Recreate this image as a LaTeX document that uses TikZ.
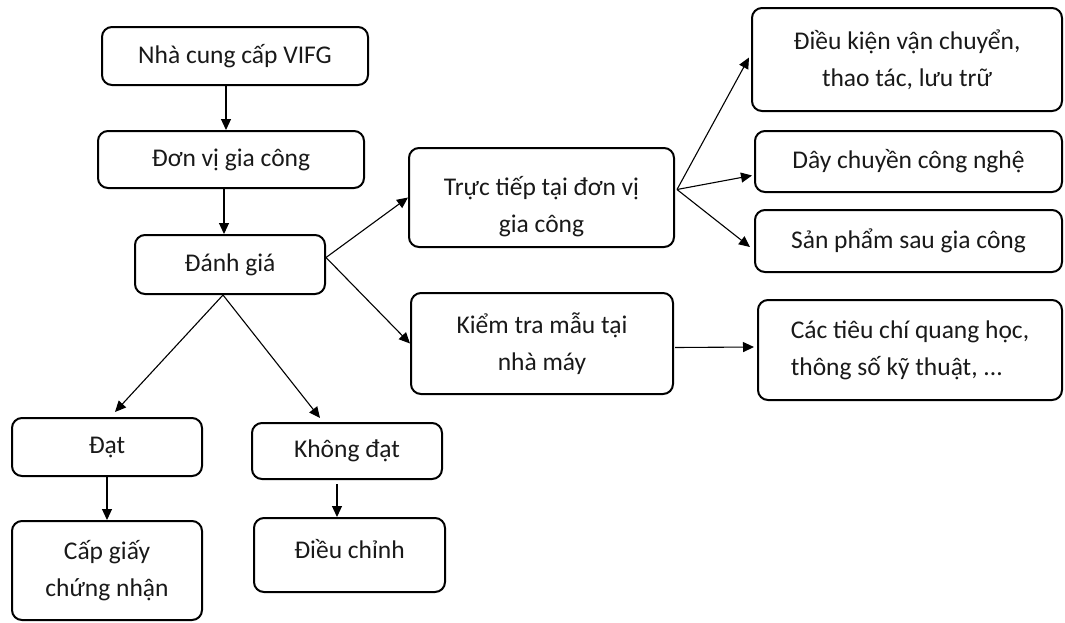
\documentclass[tikz,border=0pt]{standalone}
\usepackage{fontspec}
\setmainfont{Carlito}
\usetikzlibrary{arrows.meta,calc}
\tikzset{
  txt/.style={align=center, inner sep=0pt, font=\fontsize{25.5}{37}\selectfont, text=black!90},
  box/.style={txt, draw=black, line width=2pt, rounded corners=10pt},
  conn/.style={line width=1.1pt, -{Triangle[length=11pt,width=10pt]}},
}
\begin{document}
\begin{tikzpicture}[x=1pt,y=-1pt]
\useasboundingbox (0,0) rectangle (1065,622);
\node[box, minimum width=266pt, minimum height=58pt] (n1) at (235,56) {Nhà cung cấp VIFG};
\node[box, minimum width=266pt, minimum height=57pt] (n2) at (231,159.5) {Đơn vị gia công};
\node[box, minimum width=190pt, minimum height=59pt] (n3) at (230,264.5) {Đánh giá};
\node[box, minimum width=265pt, minimum height=99pt] (n4) at (541.5,197.5) {};
\node[txt] (n4t) at ($(n4.center)+(0,9)$) {Trực tiếp tại đơn vị\\gia công};
\node[box, minimum width=262pt, minimum height=101pt] (n5) at (542,343.5) {Kiểm tra mẫu tại\\nhà máy};
\node[box, minimum width=310pt, minimum height=103pt] (n6) at (907,59.5) {Điều kiện vận chuyển,\\thao tác, lưu trữ};
\node[box, minimum width=307pt, minimum height=61pt] (n7) at (908.5,161.5) {Dây chuyền công nghệ};
\node[box, minimum width=307pt, minimum height=62pt] (n8) at (908.5,241) {Sản phẩm sau gia công};
\node[box, minimum width=304pt, minimum height=100pt, align=left] (n9) at (910,350) {Các tiêu chí quang học,\\thông số kỹ thuật, ...};
\node[box, minimum width=190pt, minimum height=58pt] (n10) at (107,447) {Đạt};
\node[box, minimum width=190pt, minimum height=56pt] (n11) at (347,451) {Không đạt};
\node[box, minimum width=190pt, minimum height=99pt] (n12) at (107,570.5) {Cấp giấy\\chứng nhận};
\node[box, minimum width=191pt, minimum height=74pt] (n13) at (349.5,555) {};
\node[txt] (n13t) at ($(n13.center)+(0,-6)$) {Điều chỉnh};

\draw[conn] ($(n1.south)+(-9,0)$) -- ($(n2.north)+(-5,0)$);
\draw[conn] ($(n2.south)+(-7,0)$) -- ($(n3.north)+(-6,0)$);
\draw[conn] ($(n3.east)+(0,-7)$) -- (n4.west);
\draw[conn] ($(n3.east)+(0,-7)$) -- (n5.west);
\draw[conn] ($(n4.east)+(2,-8)$) -- ($(n6.west)+(-2,-2)$);
\draw[conn] ($(n4.east)+(2,-8)$) -- ($(n7.west)+(-2,14)$);
\draw[conn] ($(n4.east)+(2,-8)$) -- ($(n8.west)+(-4,6)$);
\draw[conn] ($(n5.east)+(1,4)$) -- ($(n9.west)+(-3,-3)$);
\draw[conn] ($(n3.south)+(-7,0)$) -- ($(n10.north)+(8,-5)$);
\draw[conn] ($(n3.south)+(-7,0)$) -- ($(n11.north)+(-27,-4)$);
\draw[conn] (n10.south) -- (n12.north);
\draw[conn] ($(n11.south)+(-10,4)$) -- ($(n13.north)+(-12.5,0)$);
\end{tikzpicture}
\end{document}
